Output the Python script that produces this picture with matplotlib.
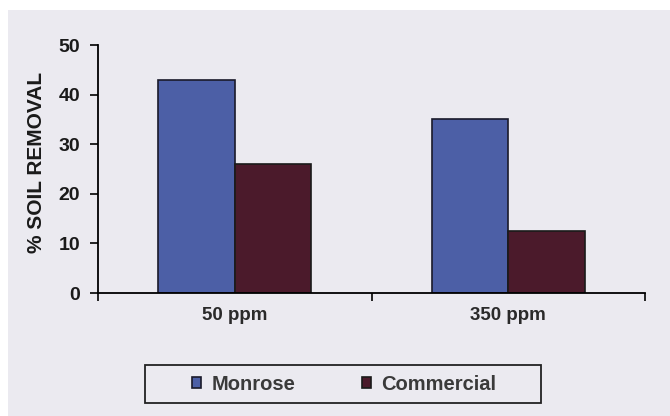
import numpy as np
import matplotlib.pyplot as plt
from matplotlib.patches import Rectangle

# 数据
categories = ['50 ppm', '350 ppm']
monrose = [43, 35]
commercial = [26, 12.5]
yticks = [0, 10, 20, 30, 40, 50]

plt.rcParams['font.family'] = ['Liberation Sans', 'DejaVu Sans']

fig = plt.figure(figsize=(6.7, 4.16), dpi=100, facecolor='white')
# 扫描背景
fig.patches.append(Rectangle((8 / 670, 0), 1, 1 - 10 / 416, transform=fig.transFigure,
                             facecolor='#ebeaf0', edgecolor='none', zorder=-10))

ax = fig.add_axes([98 / 670, 1 - 293 / 416, (645 - 98) / 670, (293 - 45) / 416])
ax.set_facecolor('none')

x = np.arange(len(categories))
w = 0.28
ax.bar(x - w / 2, monrose, w, color='#4c5fa6', edgecolor='#1a1a2a', linewidth=1.2, label='Monrose')
ax.bar(x + w / 2, commercial, w, color='#4b1a2b', edgecolor='#1a1a1a', linewidth=1.2, label='Commercial')

ax.set_xlim(-0.5, 1.5)
ax.set_ylim(0, 50)
ax.spines['top'].set_visible(False)
ax.spines['right'].set_visible(False)
ax.spines['left'].set_linewidth(1.3)
ax.spines['bottom'].set_linewidth(1.3)

ax.set_yticks(yticks)
ax.set_yticklabels([str(v) for v in yticks], fontweight='bold', fontsize=14, color='#1a1a1a')
ax.tick_params(axis='y', direction='out', length=6, width=1.2, pad=7)

# 分类边界刻度 + 居中标签
ax.set_xticks([-0.5, 0.5, 1.5])
ax.set_xticklabels(['', '', ''])
ax.tick_params(axis='x', which='major', direction='out', length=6, width=1.2)
ax.set_xticks(x, minor=True)
ax.set_xticklabels(categories, minor=True, fontsize=13.5, fontweight='bold', color='#2a2a2a')
ax.tick_params(axis='x', which='minor', length=0, pad=10)

fig.text(37 / 670, 1 - 162 / 416, '% SOIL REMOVAL', rotation=90, ha='center', va='center',
         fontsize=15, fontweight='bold', color='#1a1a1a')

# 图例（外框单独画）
fig.patches.append(Rectangle((145 / 670, 1 - 403 / 416), 396 / 670, 38 / 416,
                             transform=fig.transFigure, facecolor='none',
                             edgecolor='#222222', linewidth=1.3))
leg = fig.legend(loc='center', bbox_to_anchor=(344 / 670, 1 - 384 / 416), ncol=2,
                 frameon=False, handlelength=0.45, handleheight=0.45, handletextpad=0.5,
                 columnspacing=3.3, borderpad=0, prop={'size': 14.5, 'weight': 'bold'})
for t in leg.get_texts():
    t.set_color('#3a3a3a')

fig.savefig('out.png', dpi=100, facecolor=fig.get_facecolor())
